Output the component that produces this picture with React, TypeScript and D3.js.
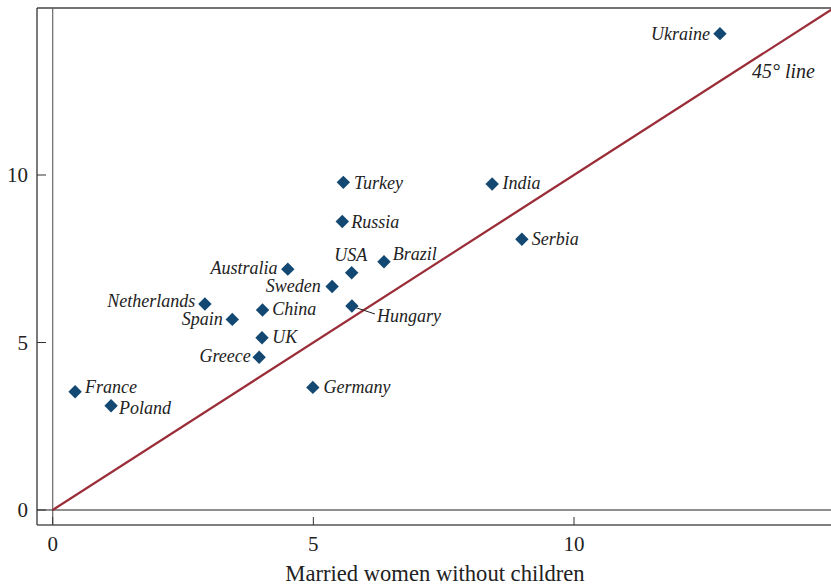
import React from "react";
import * as d3 from "d3";

const countries = ["Ukraine","Turkey","Russia","India","Serbia","USA","Brazil","Australia","Sweden","Hungary","China","Netherlands","Spain","UK","Greece","France","Poland","Germany"];
const xValues = [12.80,5.575,5.555,8.43,9.00,5.735,6.355,4.51,5.36,5.74,4.025,2.92,3.445,4.015,3.96,0.43,1.12,4.99];
const yValues = [14.22,9.78,8.61,9.73,8.08,7.08,7.41,7.19,6.67,6.09,5.97,6.15,5.69,5.14,4.56,3.53,3.11,3.66];
const xTicks = [0, 5, 10];
const yTicks = [0, 5, 10];
const xTitle = "Married women without children";
const lineLabel = "45° line";

// label layout (anchor, dx, dy in px)
const LABEL_LAYOUT: Record<string, [string, number, number]> = {
  Ukraine: ["end", -10, 6],
  Turkey: ["start", 10.7, 6.7],
  Russia: ["start", 9, 6],
  India: ["start", 10.4, 5.3],
  Serbia: ["start", 10, 5.7],
  USA: ["start", -17.4, -11.7],
  Brazil: ["start", 8.7, -1.7],
  Australia: ["end", -10.3, 4.8],
  Sweden: ["end", -11.3, 5.6],
  Hungary: ["start", 25, 15.7],
  China: ["start", 9.8, 5],
  Netherlands: ["end", -9.7, 2.7],
  Spain: ["end", -9.6, 5.7],
  UK: ["start", 10.3, 5],
  Greece: ["end", -8.3, 5],
  France: ["start", 10, 1],
  Poland: ["start", 8, 8.3],
  Germany: ["start", 10.6, 6],
};

const W = 831, H = 585;
const left = 37, top = 8, bottom = 525;
const SERIF = '"Liberation Serif", "DejaVu Serif", serif';

export default function App() {
  const x = d3.scaleLinear().domain([0, 10]).range([52.7, 574]);
  const y = d3.scaleLinear().domain([0, 10]).range([510, 175]);
  const right = W + 5;
  const diamond = (cx: number, cy: number, r = 6.7) =>
    `M${cx},${cy - r}L${cx + r},${cy}L${cx},${cy + r}L${cx - r},${cy}Z`;
  const lineGen = d3.line<number>().x((d) => x(d)).y((d) => y(d));
  const xMax = x.invert(right);
  const tStyle = { fontFamily: SERIF };
  const iStyle = { fontFamily: SERIF, fontStyle: "italic" as const };
  return (
    <svg width={W} height={H} style={{ position: "absolute", left: 0, top: 0, background: "#fff" }}>
      <defs>
        <clipPath id="plotclip">
          <rect x={left} y={top} width={right - left} height={bottom - top} />
        </clipPath>
      </defs>
      <line x1={left} x2={right} y1={top} y2={top} stroke="#444" strokeWidth={1.3} />
      <line x1={left} x2={left} y1={top} y2={bottom} stroke="#333" strokeWidth={1.3} />
      <line x1={left} x2={right} y1={bottom} y2={bottom} stroke="#555" strokeWidth={1.3} />
      <line x1={x(0)} x2={x(0)} y1={top} y2={bottom} stroke="#666" strokeWidth={1.2} />
      <line x1={left} x2={right} y1={y(0)} y2={y(0)} stroke="#222" strokeWidth={1.1} />
      {yTicks.map((t) => (
        <g key={"y" + t}>
          <line x1={left} x2={left + 9} y1={y(t)} y2={y(t)} stroke="#333" strokeWidth={1} />
          <text x={28} y={y(t)} dy="0.35em" textAnchor="end" fontSize={21} fill="#222" style={tStyle}>{t}</text>
        </g>
      ))}
      {xTicks.map((t) => (
        <g key={"x" + t}>
          <line x1={x(t)} x2={x(t)} y1={bottom} y2={bottom - 8} stroke="#333" strokeWidth={1} />
          <text x={x(t)} y={551} textAnchor="middle" fontSize={21} fill="#222" style={tStyle}>{t}</text>
        </g>
      ))}
      <text x={435} y={581} textAnchor="middle" fontSize={22.6} fill="#222" style={tStyle}>{xTitle}</text>
      <path d={lineGen([0, xMax + 1]) || ""} stroke="#9b2d39" strokeWidth={2.2} fill="none" clipPath="url(#plotclip)" />
      <text x={752} y={78} fontSize={20} fill="#222" style={iStyle}>{lineLabel}</text>
      <line x1={x(xValues[9]) + 1} x2={x(xValues[9]) + 23} y1={y(yValues[9]) + 0.7} y2={y(yValues[9]) + 8} stroke="#222" strokeWidth={1} />
      {countries.map((c, i) => {
        const cx = x(xValues[i]);
        const cy = y(yValues[i]);
        const [anchor, dx, dy] = LABEL_LAYOUT[c];
        return (
          <g key={c}>
            <path d={diamond(cx, cy)} fill="#124872" />
            <text x={cx + dx} y={cy + dy} textAnchor={anchor as any} fontSize={18} fill="#222" style={iStyle}>{c}</text>
          </g>
        );
      })}
    </svg>
  );
}
